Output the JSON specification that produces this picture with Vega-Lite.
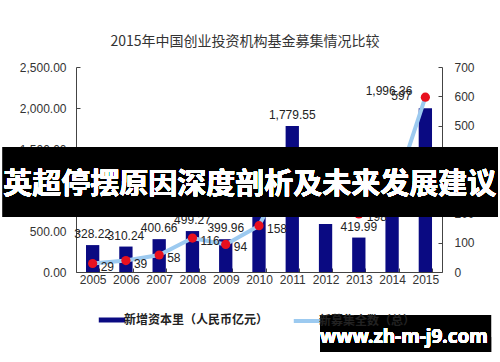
{
  "$schema": "https://vega.github.io/schema/vega-lite/v6.json",
  "width": 366,
  "height": 205,
  "autosize": {"type": "none"},
  "padding": {"left": 76, "top": 67, "right": 58, "bottom": 90},
  "background": "white",
  "config": {
    "view": {"stroke": null},
    "font": "Liberation Sans",
    "axis": {"labelFont": "Liberation Sans", "labelFontSize": 12, "labelColor": "#333", "domainColor": "#444", "tickColor": "#444", "grid": false, "title": null}
  },
  "title": {"text": "2015年中国创业投资机构基金募集情况比较", "font": "Noto Sans CJK SC", "fontSize": 14, "fontWeight": "normal", "color": "#333", "offset": 12, "dx": -14, "anchor": "middle"},
  "data": {"values": [
    {"year": "2005", "capital": 328.22, "funds": 29},
    {"year": "2006", "capital": 310.24, "funds": 39},
    {"year": "2007", "capital": 400.66, "funds": 58},
    {"year": "2008", "capital": 499.27, "funds": 116},
    {"year": "2009", "capital": 399.96, "funds": 94},
    {"year": "2010", "capital": 739.39, "funds": 158},
    {"year": "2011", "capital": 1779.55, "funds": 382},
    {"year": "2012", "capital": 585.72, "funds": 252},
    {"year": "2013", "capital": 419.99, "funds": 198},
    {"year": "2014", "capital": 1169.85, "funds": 250},
    {"year": "2015", "capital": 1996.36, "funds": 597}
  ]},
  "layer": [
    {
      "encoding": {
        "x": {"field": "year", "type": "ordinal", "scale": {"paddingInner": 0.6, "paddingOuter": 0.3},
              "axis": {"labelAngle": 0, "tickBand": "extent", "tickSize": -4, "labelPadding": 6, "labelFontSize": 12}}
      },
      "layer": [
        {
          "encoding": {
            "y": {"field": "capital", "type": "quantitative", "scale": {"domain": [0, 2500]},
                  "axis": {"values": [0, 500, 1000, 1500, 2000, 2500], "format": ",.2f", "tickSize": -4, "labelPadding": 14}}
          },
          "layer": [
            {
              "mark": {"type": "bar"},
              "encoding": {
                "color": {"datum": "新增资本里（人民币亿元）",
                  "scale": {"domain": ["新增资本里（人民币亿元）", "新募集全数（总）"], "range": ["#0a0a82", "#9ccaf0"]},
                  "legend": {"orient": "none", "legendX": 30, "legendY": 247, "direction": "horizontal", "title": null,
                    "symbolType": "stroke", "symbolStrokeWidth": 5, "symbolSize": 700, "labelFont": "Noto Sans CJK SC",
                    "labelFontSize": 12, "labelFontWeight": "bold", "labelColor": "#222", "columnPadding": 16, "labelOffset": 6,
                    "encode": {"symbols": {"update": {"shape": {"value": "stroke"}, "angle": {"value": 0}, "strokeWidth": {"signal": "datum.value === '新增资本里（人民币亿元）' ? 5 : 4"}}}}}}
              }
            },
            {
              "transform": [{"filter": "datum.year != '2015'"}],
              "mark": {"type": "text", "baseline": "bottom", "dy": -4, "fontSize": 12, "color": "#222"},
              "encoding": {"text": {"field": "capital", "type": "quantitative", "format": ",.2f"}}
            },
            {
              "transform": [{"filter": "datum.year == '2015'"}],
              "mark": {"type": "text", "baseline": "middle", "align": "right", "dx": -13, "dy": -17, "fontSize": 12, "color": "#222"},
              "encoding": {"text": {"field": "capital", "type": "quantitative", "format": ",.2f"}}
            }
          ]
        },
        {
          "encoding": {
            "y": {"field": "funds", "type": "quantitative", "scale": {"domain": [0, 700]},
                  "axis": {"orient": "right", "values": [0, 100, 200, 300, 400, 500, 600, 700], "tickSize": -4, "labelPadding": 16}}
          },
          "layer": [
            {
              "mark": {"type": "line", "strokeWidth": 4},
              "encoding": {"color": {"datum": "新募集全数（总）"}}
            },
            {
              "mark": {"type": "point", "filled": true, "size": 85, "color": "#e8101e", "opacity": 1}
            },
            {
              "transform": [{"filter": "datum.year != '2015'"}],
              "mark": {"type": "text", "baseline": "middle", "align": "left", "dx": 8, "dy": 3, "fontSize": 12, "color": "#222"},
              "encoding": {"text": {"field": "funds", "type": "quantitative"}}
            },
            {
              "transform": [{"filter": "datum.year == '2015'"}],
              "mark": {"type": "text", "baseline": "middle", "align": "right", "dx": -14, "dy": -1, "fontSize": 12, "color": "#222"},
              "encoding": {"text": {"field": "funds", "type": "quantitative"}}
            }
          ],
          "resolve": {"scale": {"color": "shared"}}
        }
      ],
      "resolve": {"scale": {"y": "independent"}}
    },
    {
      "encoding": {
        "x": {"type": "quantitative", "scale": {"domain": [0, 1]}, "axis": null},
        "y": {"type": "quantitative", "scale": {"domain": [0, 2500]}, "axis": null}
      },
      "layer": [
        {
          "mark": {"type": "rect", "color": "#000", "opacity": 0.64, "clip": false},
          "encoding": {"x": {"datum": -0.2}, "x2": {"datum": 1.152}, "y": {"datum": 1524}, "y2": {"datum": 671}}
        },
        {
          "mark": {"type": "text", "color": "white", "font": "Noto Sans CJK SC", "fontWeight": "bold", "fontSize": 29, "baseline": "middle", "align": "center"},
          "encoding": {"x": {"datum": 0.475}, "y": {"datum": 1061}, "text": {"value": "英超停摆原因深度剖析及未来发展建议"}}
        },
        {
          "mark": {"type": "rect", "color": "#000", "opacity": 0.55, "clip": false},
          "encoding": {"x": {"datum": 0.667}, "x2": {"datum": 1.134}, "y": {"datum": -524}, "y2": {"datum": -793}}
        },
        {
          "mark": {"type": "rect", "color": "#000", "opacity": 1, "clip": false},
          "encoding": {"x": {"datum": 0.667}, "x2": {"datum": 1.134}, "y": {"datum": -793}, "y2": {"datum": -976}}
        },
        {
          "mark": {"type": "text", "color": "white", "font": "Noto Sans", "fontWeight": "bold", "fontSize": 19, "baseline": "middle", "align": "center"},
          "encoding": {"x": {"datum": 0.896}, "y": {"datum": -793}, "text": {"value": "www.zh-m-j9.com"}}
        }
      ]
    }
  ],
  "resolve": {"scale": {"x": "independent", "y": "independent"}}
}
